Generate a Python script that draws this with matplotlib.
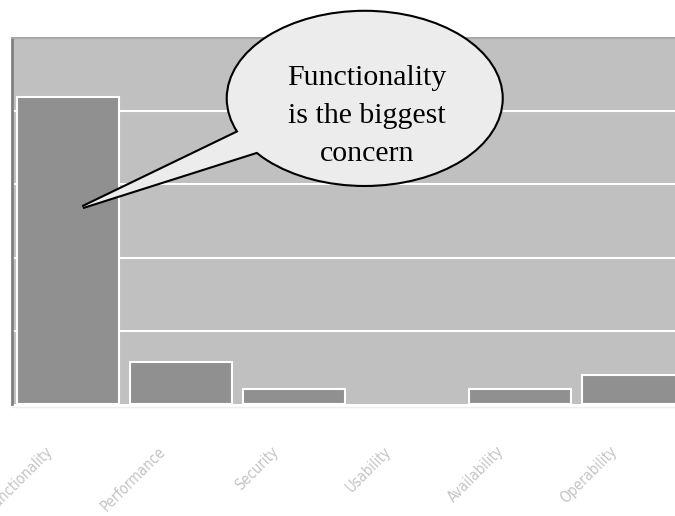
import matplotlib
matplotlib.use('Agg')
import matplotlib.pyplot as plt
import matplotlib.patches as mpatches
import matplotlib.transforms as mtransforms
import numpy as np

# data
categories = ['Functionality', 'Performance', 'Security', 'Usability', 'Availability', 'Operability']
values = [42, 5.7, 2, 0, 2, 3.9]
callout_text = 'Functionality\nis the biggest\nconcern'

fig = plt.figure(figsize=(6.75, 5.16), dpi=100)
ax = fig.add_axes([11.5 / 675, 112 / 516, 678 / 675, 366 / 516])
ax.set_facecolor('#c0c0c0')

x = np.arange(len(categories))
edge = ['white' if v > 0 else 'none' for v in values]
ax.bar(x, values, width=0.9, color='#909090', edgecolor=edge, linewidth=1.5, zorder=3)

ax.set_xlim(-0.5, len(categories) - 0.5)
ax.set_ylim(0, 50)
ax.set_yticks([10, 20, 30, 40])
ax.yaxis.grid(True, color='white', linewidth=1.5, zorder=1)
ax.set_axisbelow(True)
ax.tick_params(axis='y', length=0, labelleft=False)
ax.set_xticks(x)
ax.tick_params(axis='x', length=0, labelbottom=False)

# category labels, rotated 45 deg, hanging below the axis
shift = mtransforms.ScaledTranslation(-18 / 100, -45 / 100, fig.dpi_scale_trans)
for xi, name in zip(x, categories):
    ax.text(xi, 0, name, transform=ax.get_xaxis_transform() + shift,
            rotation=45, ha='right', va='center', rotation_mode='anchor',
            color='#c4c4c4', fontsize=10.5, fontstretch='condensed',
            family=['DejaVu Sans'])

ax.spines['left'].set_color('#808080')
ax.spines['left'].set_linewidth(2)
ax.spines['top'].set_color('#a8a8a8')
ax.spines['top'].set_linewidth(1.5)
ax.spines['right'].set_visible(False)
ax.spines['bottom'].set_color('#eeeeee')
ax.spines['bottom'].set_linewidth(1)
ax.spines['bottom'].set_position(('outward', 2))

# speech bubble callout (axes fraction coords)
cx, cy, ew, eh = 0.521, 0.835, 0.404, 0.473
tip = ax.transAxes.inverted().transform(ax.transData.transform((0.13, 26.9)))
base = []
for t in np.deg2rad([199, 221]):
    base.append((cx + 0.4 * ew * np.cos(t), cy + 0.4 * eh * np.sin(t)))
tail_pts = [tuple(tip), base[0], base[1]]

for fill_only in (False, True):
    ec = 'none' if fill_only else 'black'
    lw = 0 if fill_only else 3
    z = 6 if fill_only else 5
    ax.add_patch(mpatches.Ellipse((cx, cy), ew, eh, transform=ax.transAxes,
                                  facecolor='#ececec', edgecolor=ec, linewidth=lw,
                                  clip_on=False, zorder=z))
    ax.add_patch(mpatches.Polygon(tail_pts, closed=True, transform=ax.transAxes,
                                  facecolor='#ececec', edgecolor=ec, linewidth=lw,
                                  joinstyle='miter', clip_on=False, zorder=z))

ax.text(0.524, 0.787, callout_text, transform=ax.transAxes, ha='center', va='center',
        fontsize=21.5, linespacing=1.58, family=['Liberation Serif', 'DejaVu Serif'],
        color='black', zorder=7)

fig.savefig('out.png', dpi=100)
